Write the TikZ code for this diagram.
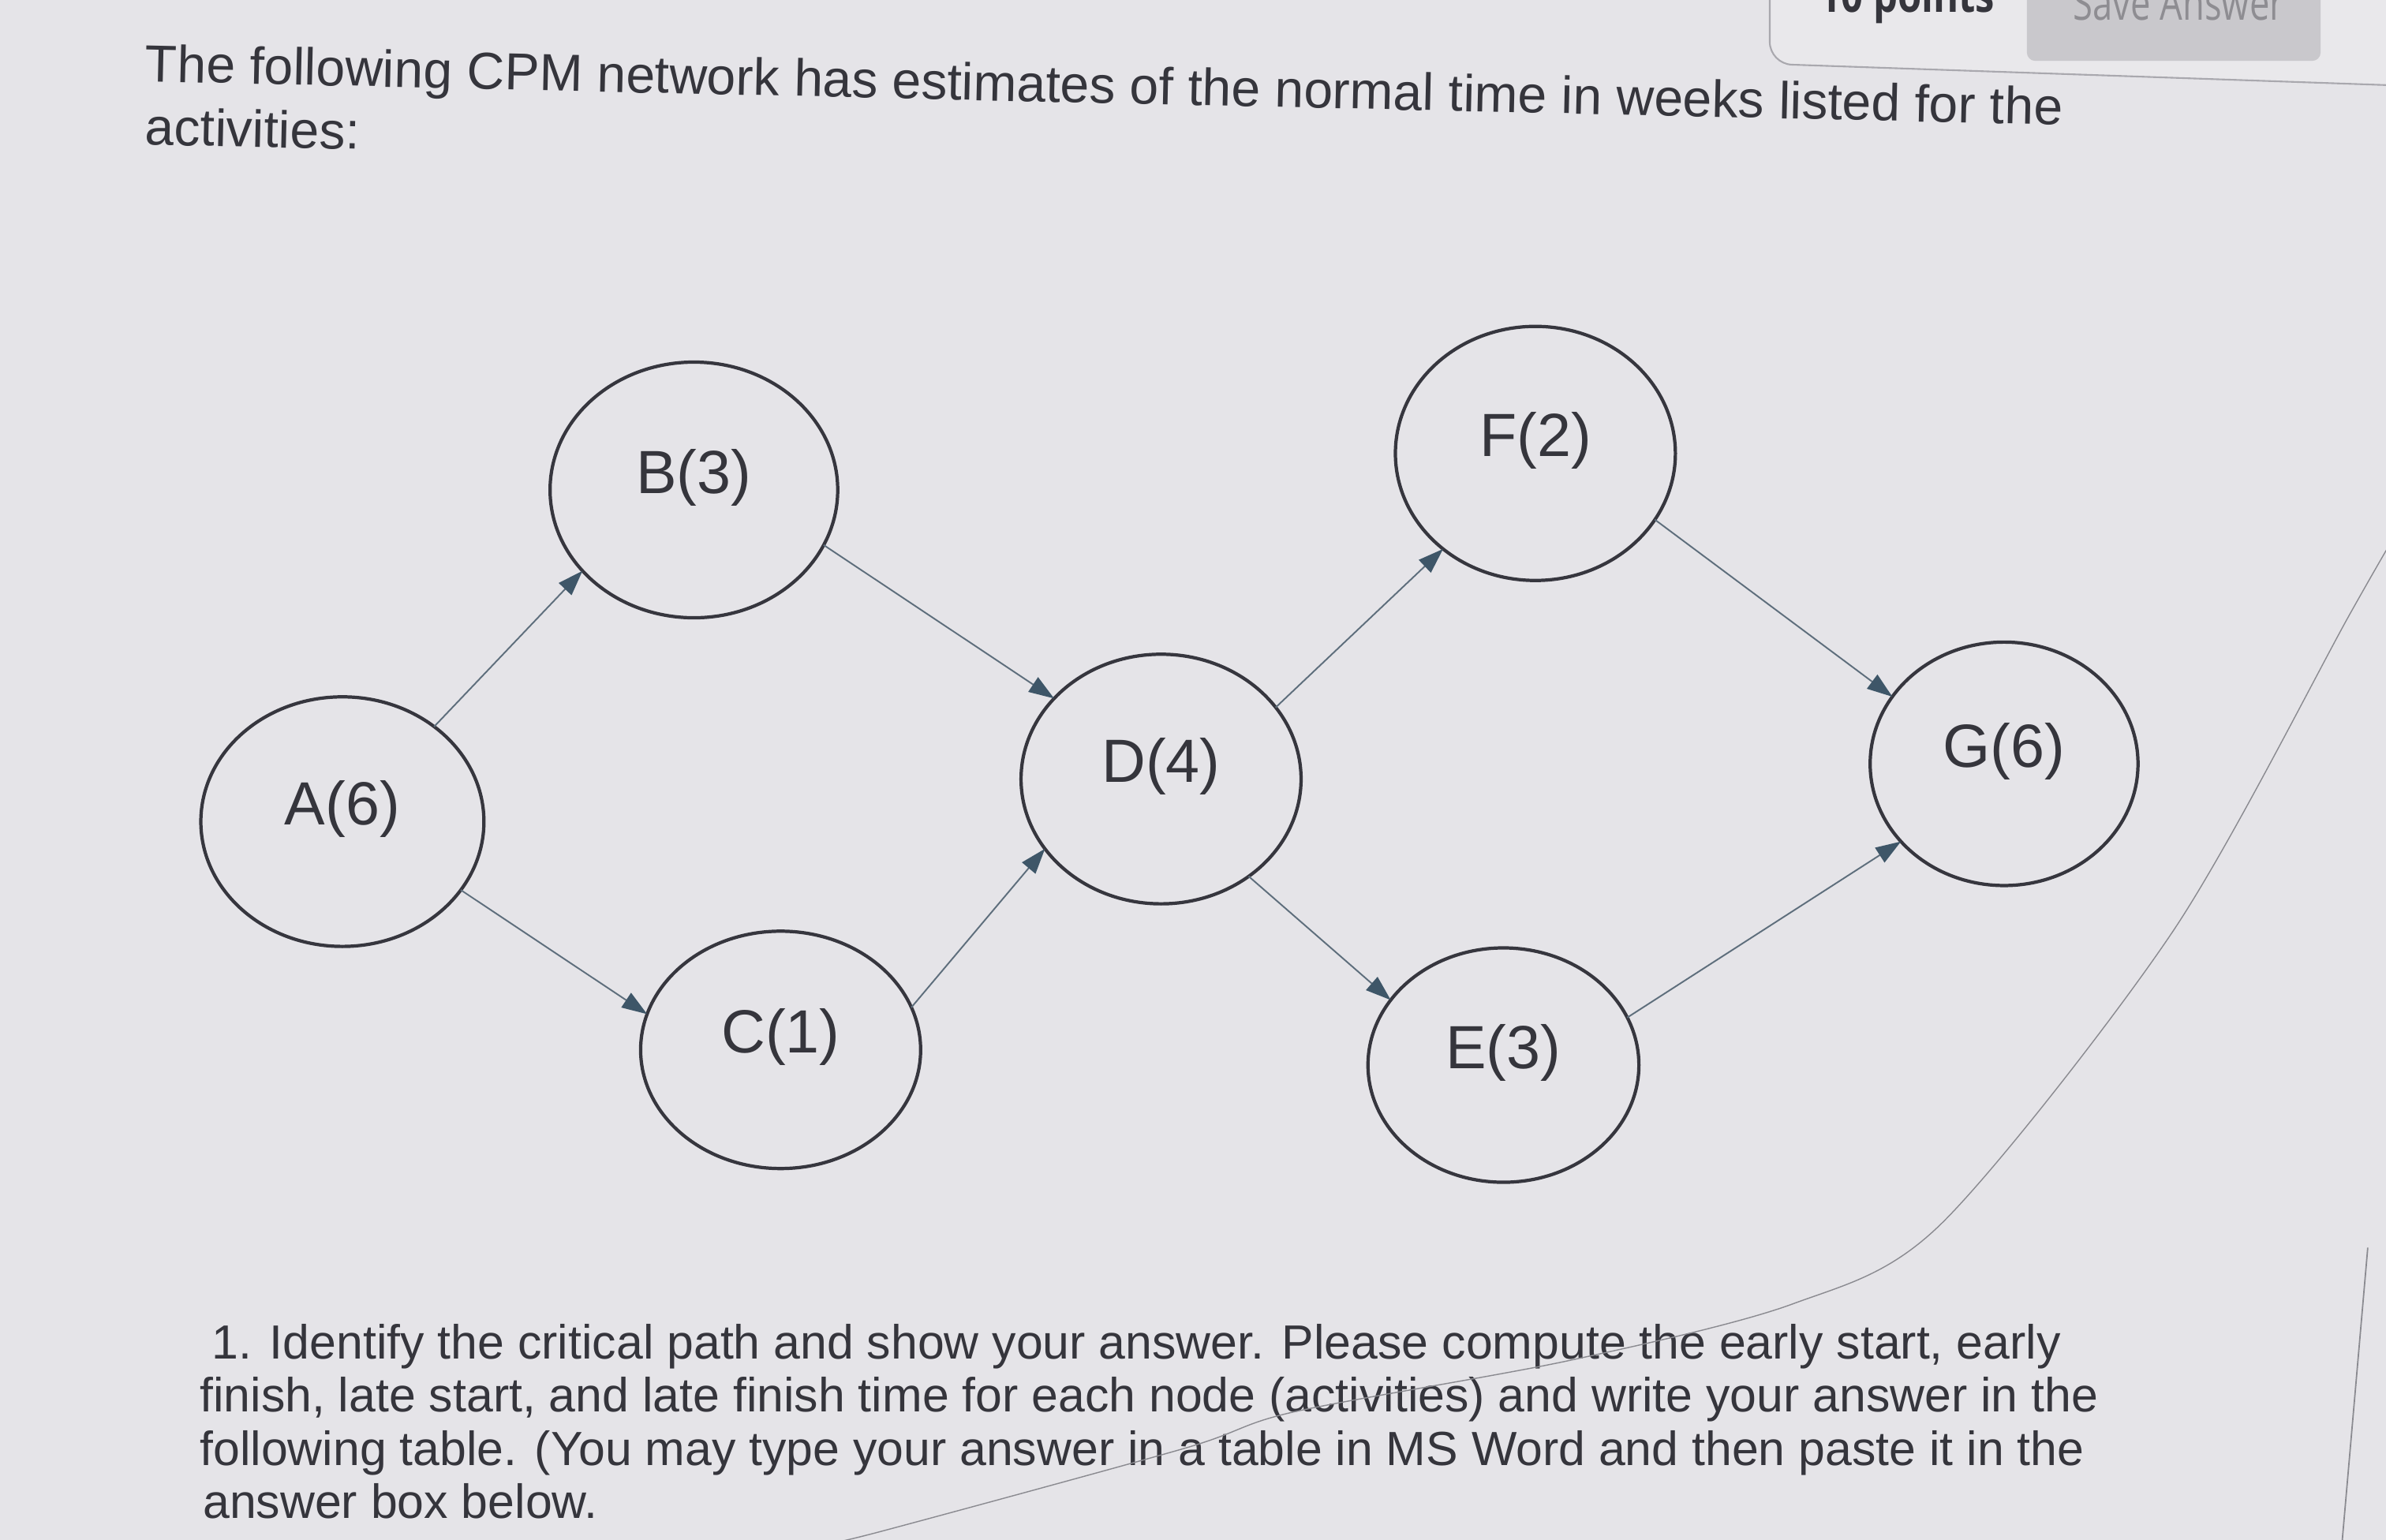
\documentclass[tikz,border=0pt]{standalone}
\usepackage{fontspec}
\setmainfont{Liberation Sans}
\newfontfamily\uifont{Open Sans}
\usetikzlibrary{arrows.meta,shapes.geometric}
\definecolor{bg}{HTML}{E5E4E8}
\definecolor{ink}{HTML}{35353C}
\definecolor{ring}{HTML}{36363E}
\definecolor{arr}{HTML}{5E6E7C}
\definecolor{tipc}{HTML}{3E5668}
\definecolor{panel}{HTML}{E9E8EB}
\definecolor{btn}{HTML}{C9C8CC}
\definecolor{btntext}{HTML}{8E8D92}
\definecolor{edge}{HTML}{A9A8AE}
\definecolor{glare}{HTML}{8A8A90}
\begin{document}
\begin{tikzpicture}[x=0.019286cm,y=-0.019286cm,
  act/.style={ellipse, draw=ring, line width=1.2pt, inner sep=0pt, outer sep=0pt,
    font=\fontsize{22}{26}\selectfont, text=ink, text height=0.5cm, text depth=0.42cm},
  link/.style={draw=arr, line width=0.55pt, -{Triangle[length=0.32cm,width=0.22cm,color=tipc]}},
  titletext/.style={anchor=base west, inner sep=0pt, text=ink, font=\fontsize{18.8}{22}\selectfont, rotate=-1.3},
  bodytext/.style={anchor=base west, inner sep=0pt, text=ink, font=\fontsize{17.3}{20}\selectfont}]
\useasboundingbox (0,0) rectangle (1568,1012);
\clip (0,0) rectangle (1568,1012);
\fill[bg] (0,0) rectangle (1568,1012);

% top-right panel
\draw[edge, fill=panel, line width=0.6pt, rounded corners=8] (1163,-30) -- (1163,42) -- (1600,57) -- (1600,-30);
\fill[btn, rounded corners=3] (1332,-20) rectangle (1525,40);
\node[anchor=base west, inner sep=0pt, text=ink, font=\uifont\bfseries\fontsize{17}{20}\selectfont] (pts) at (1195,8) {\scalebox{0.82}[1]{10 points}};
\node[anchor=base west, inner sep=0pt, text=btntext, font=\uifont\fontsize{17}{20}\selectfont] (save) at (1362,13) {\scalebox{0.76}[1]{Save Answer}};

% title
\node[titletext] (t1) at (95,53.5) {The following CPM network has estimates of the normal time in weeks listed for the};
\node[titletext] (t2) at (95,95) {activities:};

% activities
\node[act, minimum width=3.588cm, minimum height=3.164cm] (A) at (225,540) {A(6)};
\node[act, minimum width=3.646cm, minimum height=3.241cm] (B) at (456,322) {B(3)};
\node[act, minimum width=3.549cm, minimum height=3.009cm] (C) at (513,690) {C(1)};
\node[act, minimum width=3.549cm, minimum height=3.164cm] (D) at (763,512) {D(4)};
\node[act, minimum width=3.549cm, minimum height=3.221cm] (F) at (1009,298) {F(2)};
\node[act, minimum width=3.434cm, minimum height=2.971cm] (E) at (988,700) {E(3)};
\node[act, minimum width=3.395cm, minimum height=3.086cm] (G) at (1317,502) {G(6)};

% connectors
\draw[link] (A.46.8) -- (B.216.5);
\draw[link] (B.337) -- (D.143.5);
\draw[link] (A.330.7) -- (C.165.5);
\draw[link] (C.18.6) -- (D.211.6);
\draw[link] (D.32) -- (F.226.8);
\draw[link] (D.312.7) -- (E.150.2);
\draw[link] (F.331.5) -- (G.149.6);
\draw[link] (E.21.1) -- (G.217.4);

% question text
\node[bodytext] (q1) at (139,893) {1. Identify the critical path and show your answer. Please compute the early start, early};
\node[bodytext] (q2) at (131,928) {finish, late start, and late finish time for each node (activities) and write your answer in the};
\node[bodytext] (q3) at (131,963) {following table. (You may type your answer in a table in MS Word and then paste it in the};
\node[bodytext] (q4) at (133,998) {answer box below.};

% screen glare lines
\draw[glare, line width=0.4pt] plot[smooth] coordinates {(1575,350) (1544,404) (1428,612) (1276,804) (1178,857) (1032,894) (850,928) (778,952) (577,1007) (540,1015)};
\draw[glare, line width=0.5pt] (1556,820) -- (1539,1015);
\end{tikzpicture}
\end{document}
